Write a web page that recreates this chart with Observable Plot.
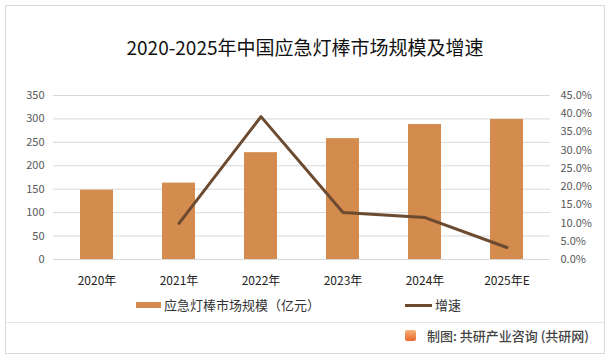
<!DOCTYPE html>
<html><head><meta charset="utf-8">
<script src="https://cdn.jsdelivr.net/npm/d3@7"></script>
<script src="https://cdn.jsdelivr.net/npm/@observablehq/plot@0.6"></script>
<style>
html,body{margin:0;padding:0;background:#fff;}
#wrap{position:relative;width:610px;height:360px;overflow:hidden;font-family:"Noto Sans CJK SC","Noto Sans",sans-serif;}
#frame{position:absolute;left:5px;top:5px;width:600px;height:349px;border:1px solid #d9d9d9;box-sizing:border-box;}
#title{position:absolute;left:0;width:610px;top:33px;text-align:center;font-size:19px;color:#111;}
#chart{position:absolute;left:0;top:70px;}
.leg{position:absolute;font-size:13px;color:#333;line-height:16px;}
#sep{position:absolute;left:6px;width:598px;top:322px;height:1px;background:#e6e6e6;}
#foot{position:absolute;left:427px;top:326px;font-size:13px;color:#444;font-weight:500;}
#logo{position:absolute;left:405px;top:330px;width:11px;height:11px;border-radius:2px;background:linear-gradient(#f7b27a,#e8692b);}
</style></head>
<body><div id="wrap">
<div id="frame"></div>
<div id="title">2020-2025年中国应急灯棒市场规模及增速</div>
<div id="chart"></div>
<div class="leg" style="left:136px;top:302px;width:25px;height:6px;background:#D38B4E"></div>
<div class="leg" style="left:164px;top:297px;">应急灯棒市场规模（亿元）</div>
<div class="leg" style="left:405px;top:304px;width:27px;height:3px;background:#6B4A2F"></div>
<div class="leg" style="left:435px;top:297px;">增速</div>
<div id="sep"></div>
<div id="logo"></div>
<div id="foot">制图: 共研产业咨询 (共研网)</div>
</div>
<script>
const years = ["2020年","2021年","2022年","2023年","2024年","2025年E"];
const marketSize = [148, 163, 228, 258, 288, 299];
const growth = [null, 9.9, 39.2, 12.9, 11.5, 3.3];
const leftTicks = [0,50,100,150,200,250,300,350];
const rightTicks = [0,5,10,15,20,25,30,35,40,45];

const leftMax = 350, rightMax = 45;
const toLeft = p => p * leftMax / rightMax;

const bars = years.map((y,i)=>({year:y, v:marketSize[i]}));
const line = years.map((y,i)=>({year:y, g:growth[i]})).filter(d=>d.g!=null);

const chart = Plot.plot({
  width: 610, height: 224,
  marginLeft: 53, marginRight: 60, marginTop: 25, marginBottom: 35,
  style: {fontFamily: '"Noto Sans CJK SC","Noto Sans",sans-serif', fontSize: "11px", color:"#595959"},
  x: {domain: years, paddingInner: 0.6, paddingOuter: 0.3, label: null},
  y: {domain: [0, leftMax], label: null},
  marks: [
    Plot.ruleY(leftTicks, {stroke:"#d9d9d9", strokeWidth:1}),
    Plot.axisY(leftTicks, {anchor:"left", tickSize:0, tickPadding:9, label:null, fontSize:11}),
    Plot.axisY(rightTicks.map(toLeft), {anchor:"right", tickSize:0, tickPadding:10, label:null, fontSize:11,
      tickFormat: v => (v*rightMax/leftMax).toFixed(1)+"%", textAnchor:"start"}),
    Plot.axisX({tickSize:0, tickPadding:17, label:null, fontSize:12, fill:"#222"}),
    Plot.barY(bars, {x:"year", y:"v", fill:"#D38B4E"}),
    Plot.line(line, {x:"year", y:d=>toLeft(d.g), stroke:"#6B4A2F", strokeWidth:3})
  ]
});
document.getElementById("chart").appendChild(chart);
</script>
</body></html>
